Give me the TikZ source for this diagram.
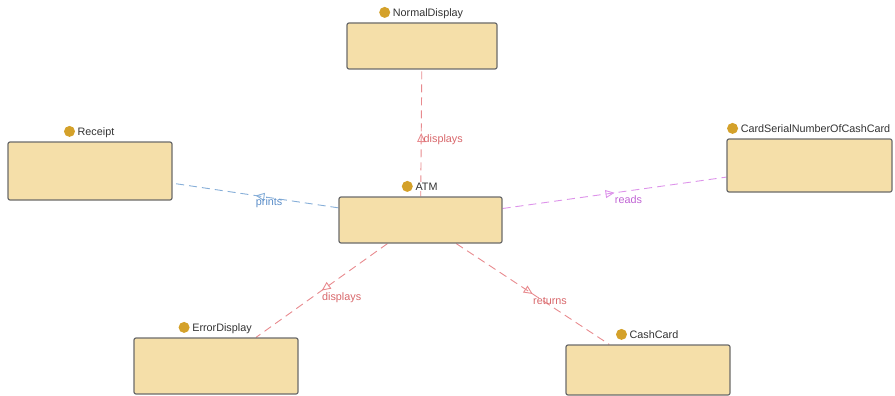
\documentclass[tikz,border=0pt]{standalone}
\usepackage{fontspec}
\setmainfont{Liberation Sans}
\usetikzlibrary{arrows.meta,decorations.markings,backgrounds}

\definecolor{boxfill}{HTML}{F5DFA9}
\definecolor{boxline}{HTML}{6B6B6B}
\definecolor{dotc}{HTML}{D4A12A}
\definecolor{relred}{HTML}{E88A8E}
\definecolor{relredtext}{HTML}{D8676B}
\definecolor{relblue}{HTML}{86AED8}
\definecolor{relbluetext}{HTML}{5A8DC8}
\definecolor{relviolet}{HTML}{DD93EA}
\definecolor{relviolettext}{HTML}{C064D4}

\tikzset{
  cls/.style={draw=boxline, fill=boxfill, line width=1.2pt, rounded corners=2pt, inner sep=0pt},
  ttl/.style={font=\fontsize{10.8}{12}\selectfont, text=black!80, fill=white, inner sep=1pt, anchor=base},
  dotmark/.style={circle, fill=dotc, minimum size=11pt, inner sep=0pt},
  rel/.style={dash pattern=on 8pt off 5pt, line width=0.9pt, postaction={decorate},
    decoration={markings, mark=at position 0.5 with {\arrow{Triangle[open, length=9pt, width=8pt, line width=0.9pt]}}}},
  rlabel/.style={pos=0.5, anchor=west, yshift=-7pt, inner sep=0pt, font=\fontsize{10.8}{12}\selectfont},
}

% class box with a centred title and a marker dot
\newcommand{\classbox}[6]{%
  \node[cls, minimum width=#4pt, minimum height=#5pt] (#1) at (#2,#3) {};
  \node[ttl] (#1T) at ([xshift=6pt, yshift=6pt]#1.north) {#6};
  \node[dotmark] (#1D) at ([xshift=-7pt, yshift=4pt]#1T.base west) {};
}

\begin{document}
\begin{tikzpicture}[x=1pt, y=-1pt]
  \useasboundingbox (0,0) rectangle (895,396);

  \classbox{nd}{422}{46}{150}{46}{NormalDisplay}
  \classbox{receipt}{90}{171}{164}{58}{Receipt}
  \classbox{atm}{420.5}{220}{163}{46}{ATM}
  \classbox{card}{809.5}{165.5}{165}{53}{CardSerialNumberOfCashCard}
  \classbox{err}{216}{366}{164}{56}{ErrorDisplay}
  \classbox{cash}{648}{370}{164}{50}{CashCard}

  \begin{scope}[on background layer]
    \draw[rel, relred] (atm) -- (nd)
      node[rlabel, text=relredtext, xshift=2pt] {displays};
    \draw[rel, relblue] (atm) -- (receipt)
      node[rlabel, text=relbluetext] {prints};
    \draw[rel, relviolet] (atm) -- (card)
      node[rlabel, text=relviolettext] {reads};
    \draw[rel, relred] (atm) -- (err)
      node[rlabel, text=relredtext] {displays};
    \draw[rel, relred] (atm) -- (cash)
      node[rlabel, text=relredtext] {returns};
  \end{scope}
\end{tikzpicture}
\end{document}
